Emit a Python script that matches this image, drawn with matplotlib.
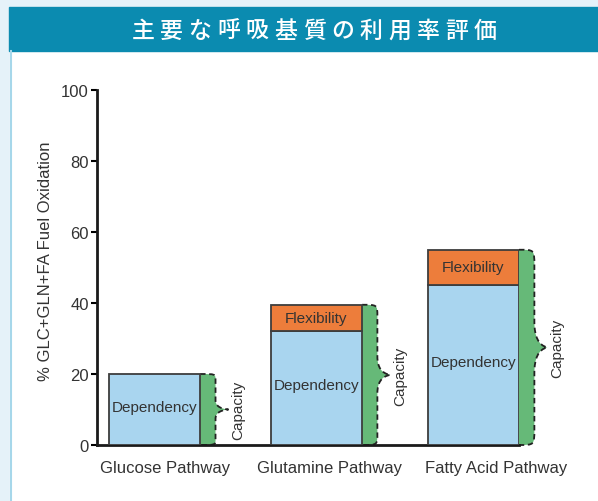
import matplotlib.pyplot as plt
from matplotlib.path import Path
from matplotlib.patches import PathPatch, Rectangle

# data
pathways = ['Glucose Pathway', 'Glutamine Pathway', 'Fatty Acid Pathway']
dependency = [20, 32, 45]
flexibility = [0, 7.5, 10]
yticks = [0, 20, 40, 60, 80, 100]
title = '主要な呼吸基質の利用率評価'

blue = '#a9d5ef'
orange = '#ed7d3b'
green = '#66b978'
edge = '#3d3d3d'
txt = '#333333'

plt.rcParams['font.family'] = ['Liberation Sans', 'DejaVu Sans']

fig = plt.figure(figsize=(5.98, 5.02), dpi=100)
fig.patch.set_facecolor('white')

# page background / header band
bg = fig.add_axes([0, 0, 1, 1], zorder=-5)
bg.set_xlim(0, 598)
bg.set_ylim(502, 0)
bg.axis('off')
bg.add_patch(Rectangle((0, 0), 598, 502, color='#e5f2f9'))
bg.add_patch(Rectangle((10, 8), 588, 494, color='white'))
bg.plot([10.5, 10.5], [52, 502], color='#a6d7ea', lw=1.5)
bg.add_patch(Rectangle((9, 8), 589, 44, color='#0b8bb0'))
step = 28.5
x0 = 314 - step * (len(title) - 1) / 2
for i, ch in enumerate(title):
    bg.text(x0 + i * step, 31, ch, color='white', fontsize=16.5, ha='center', va='center',
            family=['Noto Sans CJK JP', 'DejaVu Sans'], weight='medium')

ax = fig.add_axes([97 / 598, 1 - 446 / 502, (519 - 97) / 598, (446 - 91) / 502])
pos = [0, 1, 1.97]
label_pos = [0.065, 1.08, 2.11]
w = 0.5625

def brace(ax, x, top):
    # curly brace shape to the right of a bar, green fill with dashed outline
    bw = 0.095
    tip = 0.175
    r = top * 0.08
    h = top * 0.13
    mid = top / 2
    d = tip - bw
    verts = [(x, top),
             (x + bw, top), (x + bw, top), (x + bw, top - r),
             (x + bw, mid + h),
             (x + bw, mid + 0.45 * h), (x + bw + 0.3 * d, mid + 0.08 * h), (x + tip, mid),
             (x + bw + 0.3 * d, mid - 0.08 * h), (x + bw, mid - 0.45 * h), (x + bw, mid - h),
             (x + bw, r),
             (x + bw, 0), (x + bw, 0), (x, 0)]
    codes = [Path.MOVETO,
             Path.CURVE4, Path.CURVE4, Path.CURVE4,
             Path.LINETO,
             Path.CURVE4, Path.CURVE4, Path.CURVE4,
             Path.CURVE4, Path.CURVE4, Path.CURVE4,
             Path.LINETO,
             Path.CURVE4, Path.CURVE4, Path.CURVE4]
    ax.add_patch(PathPatch(Path(verts + [(x, top)], codes + [Path.CLOSEPOLY]),
                           facecolor=green, edgecolor='none', zorder=1, clip_on=False))
    ax.add_patch(PathPatch(Path(verts, codes), facecolor='none', edgecolor='#222222',
                           lw=1.3, ls=(0, (3, 2)), zorder=2, clip_on=False))

for i in range(len(pathways)):
    total = dependency[i] + flexibility[i]
    brace(ax, pos[i] + w / 2, total)
    ax.bar(pos[i], dependency[i], width=w, color=blue, edgecolor=edge, lw=1.3, zorder=3)
    ax.text(pos[i], dependency[i] / 2 + 0.8, 'Dependency', ha='center', va='center',
            fontsize=11, color=txt, zorder=4)
    if flexibility[i] > 0:
        ax.bar(pos[i], flexibility[i], bottom=dependency[i], width=w, color=orange,
               edgecolor=edge, lw=1.3, zorder=3)
        ax.text(pos[i], dependency[i] + flexibility[i] / 2, 'Flexibility', ha='center',
                va='center', fontsize=11, color=txt, zorder=4)
    ax.text(pos[i] + w / 2 + 0.235, total / 2, 'Capacity', rotation=90, ha='center',
            va='center', fontsize=11, color=txt)

ax.set_xlim(-0.356, pos[-1] + w / 2)
ax.set_ylim(0, 100)
ax.set_yticks(yticks)
ax.set_xticks(label_pos)
ax.set_xticklabels(pathways, fontsize=12, color=txt)
ax.tick_params(axis='x', length=0, pad=11)
ax.tick_params(axis='y', direction='out', length=4.5, width=1.5, labelsize=12,
               labelcolor=txt, pad=1.5)
ax.set_ylabel('% GLC+GLN+FA Fuel Oxidation', fontsize=12, color=txt)
ax.yaxis.set_label_coords(-0.105, 0.52)
for s in ['top', 'right']:
    ax.spines[s].set_visible(False)
for s in ['left', 'bottom']:
    ax.spines[s].set_linewidth(2)
    ax.spines[s].set_color('#1a1a1a')
ax.patch.set_alpha(0)

fig.savefig('out.png', dpi=100)
